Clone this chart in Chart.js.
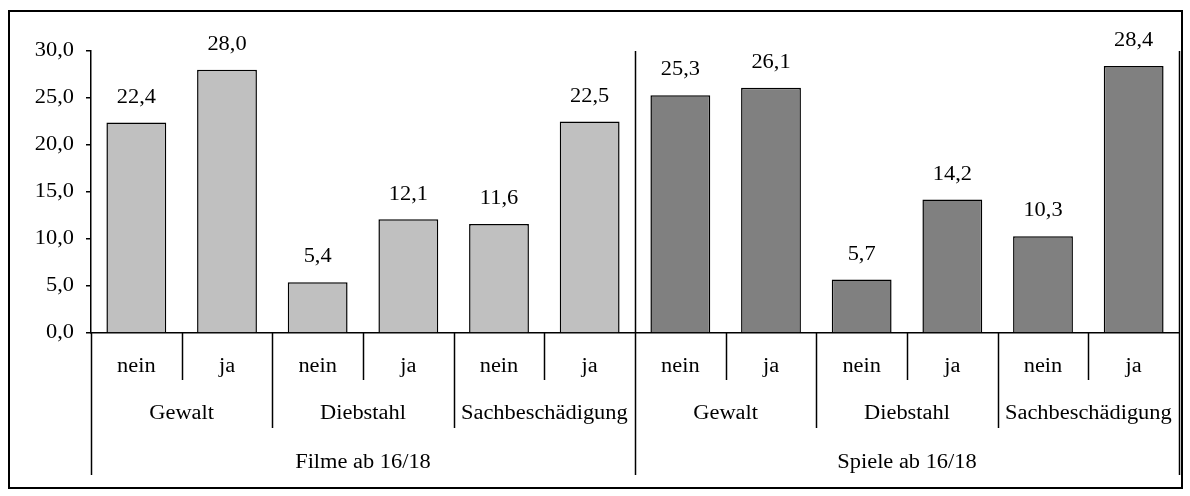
<!DOCTYPE html>
<html>
<head>
<meta charset="utf-8">
<script src="https://cdn.jsdelivr.net/npm/chart.js@4/dist/chart.umd.min.js"></script>
<style>
  html, body { margin: 0; padding: 0; background: #fff; }
  #wrap { width: 1190px; height: 496px; }
</style>
</head>
<body>
<div id="wrap"><canvas id="chart" width="1190" height="496"></canvas></div>
<script>
// data
const answers = ['nein', 'ja'];
const offences = ['Gewalt', 'Diebstahl', 'Sachbeschädigung'];
const media = ['Filme ab 16/18', 'Spiele ab 16/18'];
const filmeValues = [22.4, 28.0, 5.4, 12.1, 11.6, 22.5];
const spieleValues = [25.3, 26.1, 5.7, 14.2, 10.3, 28.4];
const yTicks = [0, 5, 10, 15, 20, 25, 30];

const FONT = '20px "Liberation Serif", "Times New Roman", serif';
const STRETCH = 1.12; // the original text is a bit wide
const fmt = v => v.toFixed(1).replace('.', ',');

// one category per bar: answer / offence / medium
const labels = [];
media.forEach(m => offences.forEach(o => answers.forEach(a => labels.push([a, o, m]))));

const pad = n => new Array(n).fill(null);
const filmeData = filmeValues.concat(pad(spieleValues.length));
const spieleData = pad(filmeValues.length).concat(spieleValues);

function drawText(ctx, text, x, y, align) {
    ctx.save();
    ctx.font = FONT;
    ctx.fillStyle = '#000';
    ctx.textAlign = align || 'center';
    ctx.textBaseline = 'middle';
    ctx.translate(x, y);
    ctx.scale(STRETCH, 1);
    ctx.fillText(text, 0, 0);
    ctx.restore();
}

// outer frame
const framePlugin = {
    id: 'frame',
    beforeDraw(chart) {
        const ctx = chart.ctx;
        ctx.save();
        ctx.fillStyle = '#fff';
        ctx.fillRect(0, 0, chart.width, chart.height);
        ctx.strokeStyle = '#000';
        ctx.lineWidth = 2;
        ctx.strokeRect(9, 11, 1173, 477);
        ctx.restore();
    }
};

// value labels above bars + y tick labels
const textPlugin = {
    id: 'texts',
    afterDatasetsDraw(chart) {
        const ctx = chart.ctx;
        chart.data.datasets.forEach((ds, i) => {
            chart.getDatasetMeta(i).data.forEach((bar, j) => {
                const v = ds.data[j];
                if (v === null) return;
                drawText(ctx, fmt(v), bar.x, bar.y - 25);
            });
        });
        const y = chart.scales.y;
        yTicks.forEach(v => drawText(ctx, fmt(v), y.right - 17, y.getPixelForValue(v), 'right'));
    }
};

// multi-level category axis with separator lines
const groupAxis = {
    id: 'groupAxis',
    afterDraw(chart) {
        const ctx = chart.ctx;
        const x = chart.scales.x;
        const area = chart.chartArea;
        const n = labels.length;
        const step = x.getPixelForValue(1) - x.getPixelForValue(0);
        const edge = i => x.getPixelForValue(0) - step / 2 + i * step;
        const base = area.bottom;
        const rows = [base + 34, base + 81, base + 130];
        const lineEnds = [base + 47, base + 95, base + 142];

        ctx.save();
        ctx.strokeStyle = '#000';
        ctx.lineWidth = 1.5;
        for (let i = 0; i <= n; i++) {
            let level = 0;
            if (i % answers.length === 0) level = 1;
            if (i % (answers.length * offences.length) === 0) level = 2;
            const px = Math.round(edge(i)) + 0.5;
            const top = (level === 2 && i > 0) ? area.top : base;
            ctx.beginPath();
            ctx.moveTo(px, top);
            ctx.lineTo(px, lineEnds[level]);
            ctx.stroke();
        }
        ctx.restore();

        const spans = [1, answers.length, answers.length * offences.length];
        spans.forEach((span, level) => {
            for (let i = 0; i < n; i += span) {
                const cx = (edge(i) + edge(i + span)) / 2;
                drawText(ctx, labels[i][level], cx, rows[level]);
            }
        });
    }
};

new Chart(document.getElementById('chart'), {
    type: 'bar',
    data: {
        labels: labels,
        datasets: [
            { label: media[0], data: filmeData, backgroundColor: '#C0C0C0' },
            { label: media[1], data: spieleData, backgroundColor: '#808080' }
        ]
    },
    options: {
        responsive: false,
        animation: false,
        grouped: false,
        borderColor: '#000',
        borderWidth: 1.5,
        categoryPercentage: 1,
        barPercentage: 0.66,
        layout: { padding: { top: 51, right: 11, left: 8, bottom: 0 } },
        plugins: { legend: { display: false }, tooltip: { enabled: false } },
        scales: {
            x: {
                ticks: { display: false },
                grid: { display: false },
                border: { display: true, color: '#000', width: 1.5 },
                afterFit(scale) { scale.height = 163; }
            },
            y: {
                min: 0,
                max: 30,
                afterBuildTicks(scale) { scale.ticks = yTicks.map(v => ({ value: v })); },
                ticks: { display: false },
                grid: { drawOnChartArea: false, drawTicks: true, tickLength: 5, color: '#000', lineWidth: 1.5 },
                border: { display: true, color: '#000', width: 1.5 },
                afterFit(scale) { scale.width = 83; }
            }
        }
    },
    plugins: [framePlugin, textPlugin, groupAxis]
});
</script>
</body>
</html>
